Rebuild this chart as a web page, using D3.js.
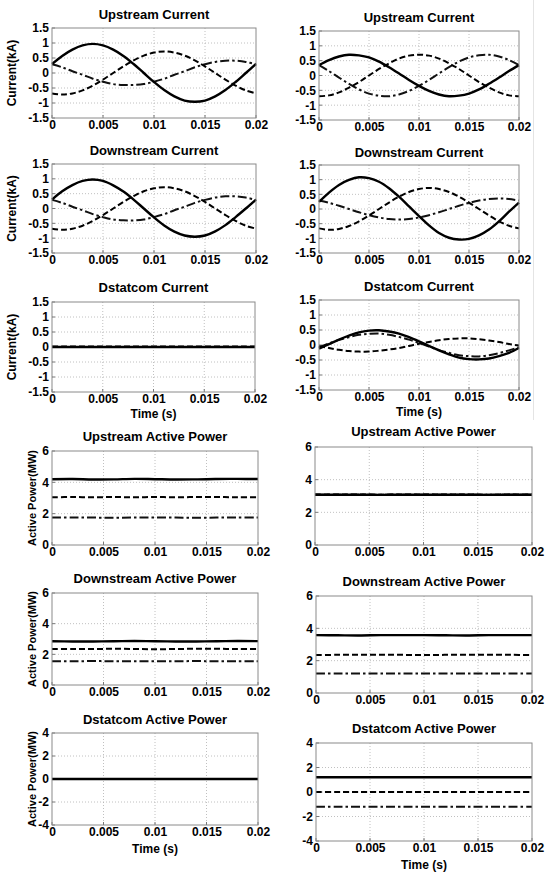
<!DOCTYPE html>
<html><head><meta charset="utf-8">
<script src="https://cdn.jsdelivr.net/npm/d3@7"></script>
<style>
body{margin:0;background:#fff}
svg{display:block}
text{font-family:"Liberation Sans",Arial,sans-serif;font-weight:bold;fill:#000}
</style>
</head><body>
<svg id="c" width="552" height="872"></svg>
<script>
// ---------- data ----------
const timeTicks = [0, 0.005, 0.01, 0.015, 0.02];
const timeTickLabels = ["0", "0.005", "0.01", "0.015", "0.02"];
const currentTicks = [-1.5, -1, -0.5, 0, 0.5, 1, 1.5];
const currentTickLabels = ["-1.5", "-1", "-0.5", "0", "0.5", "1", "1.5"];
const powerTicks = [0, 2, 4, 6];
const powerTickLabels = ["0", "2", "4", "6"];
const statPowerTicks = [-4, -2, 0, 2, 4];
const statPowerTickLabels = ["-4", "-2", "0", "2", "4"];

const tCur = [0,0.001,0.002,0.003,0.004,0.005,0.006,0.007,0.008,0.009,0.01,0.011,0.012,0.013,0.014,0.015,0.016,0.017,0.018,0.019,0.02];
const tPow = [0,0.002,0.004,0.006,0.008,0.01,0.012,0.014,0.016,0.018,0.02];

// Left column (without compensation) currents
const upCurL_solid   = [0.30,0.57,0.78,0.92,0.97,0.92,0.78,0.57,0.30,0.00,-0.30,-0.57,-0.78,-0.92,-0.96,-0.92,-0.78,-0.57,-0.30,0.00,0.30];
const upCurL_dashed  = [-0.68,-0.72,-0.68,-0.58,-0.42,-0.22,0.00,0.22,0.42,0.58,0.68,0.72,0.68,0.58,0.42,0.22,0.00,-0.22,-0.42,-0.58,-0.68];
const upCurL_dashdot = [0.29,0.19,0.06,-0.06,-0.19,-0.29,-0.37,-0.40,-0.40,-0.37,-0.29,-0.19,-0.06,0.06,0.19,0.29,0.37,0.41,0.41,0.37,0.29];
const dnCurL_solid   = [0.30,0.58,0.79,0.93,0.98,0.93,0.78,0.57,0.30,0.00,-0.30,-0.57,-0.78,-0.91,-0.95,-0.91,-0.77,-0.56,-0.29,0.00,0.30];
const dnCurL_dashed  = [-0.68,-0.72,-0.68,-0.58,-0.42,-0.22,0.00,0.22,0.42,0.58,0.68,0.72,0.68,0.58,0.42,0.22,0.00,-0.22,-0.42,-0.58,-0.68];
const dnCurL_dashdot = [0.29,0.19,0.06,-0.06,-0.19,-0.29,-0.37,-0.40,-0.40,-0.37,-0.29,-0.19,-0.06,0.06,0.19,0.29,0.37,0.41,0.41,0.37,0.29];
const stCurL_solid   = [0,0,0,0,0,0,0,0,0,0,0,0,0,0,0,0,0,0,0,0,0];
const stCurL_dashed  = [0.02,0.02,0.02,0.02,0.02,0.02,0.02,0.02,0.02,0.02,0.02,0.02,0.02,0.02,0.02,0.02,0.02,0.02,0.02,0.02,0.02];
const stCurL_dashdot = [0,0,0,0,0,0,0,0,0,0,0,0,0,0,0,0,0,0,0,0,0];

// Right column (with Dstatcom) currents
const upCurR_solid   = [0.35,0.52,0.64,0.70,0.68,0.61,0.47,0.28,0.07,-0.15,-0.35,-0.52,-0.64,-0.70,-0.68,-0.61,-0.47,-0.28,-0.07,0.15,0.35];
const upCurR_dashed  = [-0.70,-0.67,-0.57,-0.41,-0.22,0.00,0.22,0.41,0.57,0.67,0.70,0.67,0.57,0.41,0.22,0.00,-0.22,-0.41,-0.57,-0.67,-0.70];
const upCurR_dashdot = [0.35,0.15,-0.07,-0.28,-0.47,-0.61,-0.68,-0.70,-0.64,-0.52,-0.35,-0.15,0.07,0.28,0.47,0.61,0.68,0.70,0.64,0.52,0.35];
const dnCurR_solid   = [0.24,0.56,0.82,0.99,1.08,1.05,0.93,0.71,0.42,0.09,-0.24,-0.56,-0.82,-0.98,-1.04,-1.02,-0.90,-0.70,-0.42,-0.09,0.22];
const dnCurR_dashed  = [-0.66,-0.71,-0.68,-0.58,-0.42,-0.22,0.00,0.22,0.42,0.58,0.68,0.72,0.68,0.58,0.42,0.22,0.00,-0.22,-0.42,-0.57,-0.66];
const dnCurR_dashdot = [0.29,0.21,0.11,0.00,-0.11,-0.21,-0.29,-0.34,-0.36,-0.34,-0.29,-0.21,-0.11,0.00,0.11,0.21,0.29,0.34,0.36,0.34,0.29];
const stCurR_solid   = [-0.12,0.03,0.18,0.31,0.42,0.48,0.49,0.45,0.38,0.26,0.12,-0.03,-0.18,-0.31,-0.42,-0.47,-0.48,-0.45,-0.37,-0.26,-0.10];
const stCurR_dashed  = [-0.04,-0.10,-0.16,-0.20,-0.22,-0.22,-0.19,-0.15,-0.10,-0.03,0.04,0.10,0.16,0.20,0.22,0.22,0.19,0.15,0.10,0.03,-0.02];
const stCurR_dashdot = [-0.07,0.05,0.17,0.26,0.34,0.37,0.38,0.34,0.27,0.18,0.07,-0.05,-0.17,-0.26,-0.34,-0.37,-0.38,-0.34,-0.27,-0.18,-0.07];

// Active powers
const upPowL_solid   = [4.20,4.21,4.18,4.19,4.22,4.20,4.18,4.19,4.21,4.22,4.21];
const upPowL_dashed  = [3.05,3.06,3.05,3.06,3.05,3.06,3.05,3.06,3.06,3.05,3.05];
const upPowL_dashdot = [1.75,1.76,1.75,1.74,1.75,1.76,1.75,1.74,1.75,1.75,1.75];
const upPowR_solid   = [3.08,3.08,3.08,3.07,3.08,3.08,3.08,3.08,3.07,3.08,3.08];
const upPowR_dashed  = [3.09,3.09,3.09,3.08,3.09,3.09,3.09,3.09,3.08,3.09,3.09];
const upPowR_dashdot = [3.08,3.08,3.08,3.07,3.08,3.08,3.08,3.08,3.07,3.08,3.08];
const dnPowL_solid   = [2.85,2.84,2.84,2.85,2.87,2.85,2.84,2.84,2.85,2.87,2.86];
const dnPowL_dashed  = [2.34,2.35,2.35,2.36,2.35,2.33,2.35,2.36,2.36,2.35,2.35];
const dnPowL_dashdot = [1.55,1.55,1.56,1.55,1.55,1.55,1.55,1.56,1.55,1.55,1.55];
const dnPowR_solid   = [3.58,3.57,3.56,3.58,3.58,3.58,3.57,3.56,3.58,3.58,3.58];
const dnPowR_dashed  = [2.35,2.36,2.36,2.37,2.36,2.35,2.36,2.37,2.37,2.36,2.35];
const dnPowR_dashdot = [1.20,1.20,1.20,1.20,1.20,1.20,1.20,1.20,1.20,1.20,1.20];
const stPowL_solid   = [0,0,0,0,0,0,0,0,0,0,0];
const stPowL_dashed  = [0,0,0,0,0,0,0,0,0,0,0];
const stPowL_dashdot = [0,0,0,0,0,0,0,0,0,0,0];
const stPowR_solid   = [1.20,1.20,1.20,1.20,1.20,1.20,1.20,1.20,1.20,1.20,1.20];
const stPowR_dashed  = [0.00,0.00,0.00,0.00,0.00,0.00,0.00,0.00,0.00,0.00,0.00];
const stPowR_dashdot = [-1.20,-1.20,-1.20,-1.20,-1.20,-1.20,-1.20,-1.20,-1.20,-1.20,-1.20];

// ---------- layout ----------
const curY = {domain:[-1.5,1.5], ticks:currentTicks, labels:currentTickLabels};
const powY = {domain:[0,6], ticks:powerTicks, labels:powerTickLabels};
const spwY = {domain:[-4,4], ticks:statPowerTicks, labels:statPowerTickLabels};

const panels = [
  {title:"Upstream Current", box:[52,256,28,118], ty:19, y:curY, t:tCur, s:[upCurL_solid,upCurL_dashed,upCurL_dashdot], ylab:"Current(kA)", ylx:12},
  {title:"Upstream Current", box:[319,519,31,120], ty:22, y:curY, t:tCur, s:[upCurR_solid,upCurR_dashed,upCurR_dashdot]},
  {title:"Downstream Current", box:[52,256,164,253], ty:155, y:curY, t:tCur, s:[dnCurL_solid,dnCurL_dashed,dnCurL_dashdot], ylab:"Current(kA)", ylx:12},
  {title:"Downstream Current", box:[319,519,165,253], ty:157, y:curY, t:tCur, s:[dnCurR_solid,dnCurR_dashed,dnCurR_dashdot]},
  {title:"Dstatcom Current", box:[52,255,302,392], ty:292, y:curY, t:tCur, s:[stCurL_solid,stCurL_dashed,stCurL_dashdot], ylab:"Current(kA)", ylx:12, xlab:418},
  {title:"Dstatcom Current", box:[319,519,300,390], ty:291, y:curY, t:tCur, s:[stCurR_solid,stCurR_dashed,stCurR_dashdot], xlab:416},
  {title:"Upstream Active Power", box:[52,258,451,545], ty:441, y:powY, t:tPow, s:[upPowL_solid,upPowL_dashed,upPowL_dashdot], ylab:"Active Power(MW)", ylx:32},
  {title:"Upstream Active Power", box:[315,532,447,545], ty:436, y:powY, t:tPow, s:[upPowR_solid,upPowR_dashed,upPowR_dashdot]},
  {title:"Downstream Active Power", box:[52,258,593,685], ty:583, y:powY, t:tPow, s:[dnPowL_solid,dnPowL_dashed,dnPowL_dashdot], ylab:"Active Power(MW)", ylx:32},
  {title:"Downstream Active Power", box:[316,532,596,693], ty:586, y:powY, t:tPow, s:[dnPowR_solid,dnPowR_dashed,dnPowR_dashdot]},
  {title:"Dstatcom Active Power", box:[52,258,733,825], ty:724, y:spwY, t:tPow, s:[stPowL_solid,stPowL_dashed,stPowL_dashdot], ylab:"Active Power(MW)", ylx:32, xlab:853},
  {title:"Dstatcom Active Power", box:[316,532,743,841], ty:733, y:spwY, t:tPow, s:[stPowR_solid,stPowR_dashed,stPowR_dashdot], xlab:869}
];

const styles = [
  {w:2.4, dash:null, color:"#000"},
  {w:2.0, dash:"6,3", color:"#000"},
  {w:2.0, dash:"9,3,2.5,3", color:"#111"}
];

const svg = d3.select("#c");

// faint scan artefact line on the right
svg.append("line").attr("x1",533.5).attr("x2",533.5).attr("y1",0).attr("y2",420)
  .attr("stroke","#e4e4e4").attr("stroke-width",1);

panels.forEach(p => {
  const [x0,x1,y0,y1] = p.box;
  const x = d3.scaleLinear().domain([0,0.02]).range([x0,x1]);
  const y = d3.scaleLinear().domain(p.y.domain).range([y1,y0]);
  const g = svg.append("g");

  // grid
  g.selectAll(".vg").data(timeTicks.slice(1,-1)).join("line")
    .attr("x1",d=>x(d)).attr("x2",d=>x(d)).attr("y1",y0).attr("y2",y1)
    .attr("stroke","#b0b0b0").attr("stroke-width",0.8).attr("stroke-dasharray","1,2");
  g.selectAll(".hg").data(p.y.ticks.slice(1,-1)).join("line")
    .attr("x1",x0).attr("x2",x1).attr("y1",d=>y(d)).attr("y2",d=>y(d))
    .attr("stroke","#b0b0b0").attr("stroke-width",0.8).attr("stroke-dasharray","1,2");

  // axes via d3
  const xAxis = d3.axisBottom(x).tickValues(timeTicks).tickFormat((d,i)=>timeTickLabels[i]).tickSize(0).tickPadding(2);
  const yAxis = d3.axisLeft(y).tickValues(p.y.ticks).tickFormat((d,i)=>p.y.labels[i]).tickSize(0).tickPadding(3);
  const gx = g.append("g").attr("transform",`translate(0,${y1})`).call(xAxis);
  const gy = g.append("g").attr("transform",`translate(${x0},0)`).call(yAxis);
  [gx,gy].forEach(a=>{
    a.select(".domain").remove();
    a.selectAll("text").attr("font-size",12).attr("font-weight","bold")
      .attr("font-family","'Liberation Sans',Arial,sans-serif").attr("fill","#000");
  });
  // small inward tick marks
  g.selectAll(".xt").data(timeTicks).join("line")
    .attr("x1",d=>x(d)).attr("x2",d=>x(d)).attr("y1",y1).attr("y2",y1-3).attr("stroke","#777");
  g.selectAll(".yt").data(p.y.ticks).join("line")
    .attr("x1",x0).attr("x2",x0+3).attr("y1",d=>y(d)).attr("y2",d=>y(d)).attr("stroke","#777");

  // series: dash-dot, dashed, then solid on top
  const line = d3.line().x((d,i)=>x(p.t[i])).y(d=>y(d)).curve(d3.curveCatmullRom);
  [2,1,0].forEach(k=>{
    const st = styles[k];
    g.append("path").datum(p.s[k]).attr("d",line)
      .attr("fill","none").attr("stroke",st.color).attr("stroke-width",st.w)
      .attr("stroke-dasharray",st.dash).attr("stroke-linejoin","round");
  });

  // box
  g.append("rect").attr("x",x0).attr("y",y0).attr("width",x1-x0).attr("height",y1-y0)
    .attr("fill","none").attr("stroke","#8a8a8a").attr("stroke-width",1);

  // title
  g.append("text").attr("x",(x0+x1)/2).attr("y",p.ty).attr("text-anchor","middle")
    .attr("font-size",13).text(p.title);
  if (p.ylab) {
    g.append("text").attr("transform",`translate(${p.ylx+4},${(y0+y1)/2}) rotate(-90)`)
      .attr("text-anchor","middle").attr("font-size",p.ylab.length>12?11:12).text(p.ylab);
  }
  if (p.xlab) {
    g.append("text").attr("x",(x0+x1)/2).attr("y",p.xlab).attr("text-anchor","middle")
      .attr("font-size",12).text("Time (s)");
  }
});
</script>
</body></html>
